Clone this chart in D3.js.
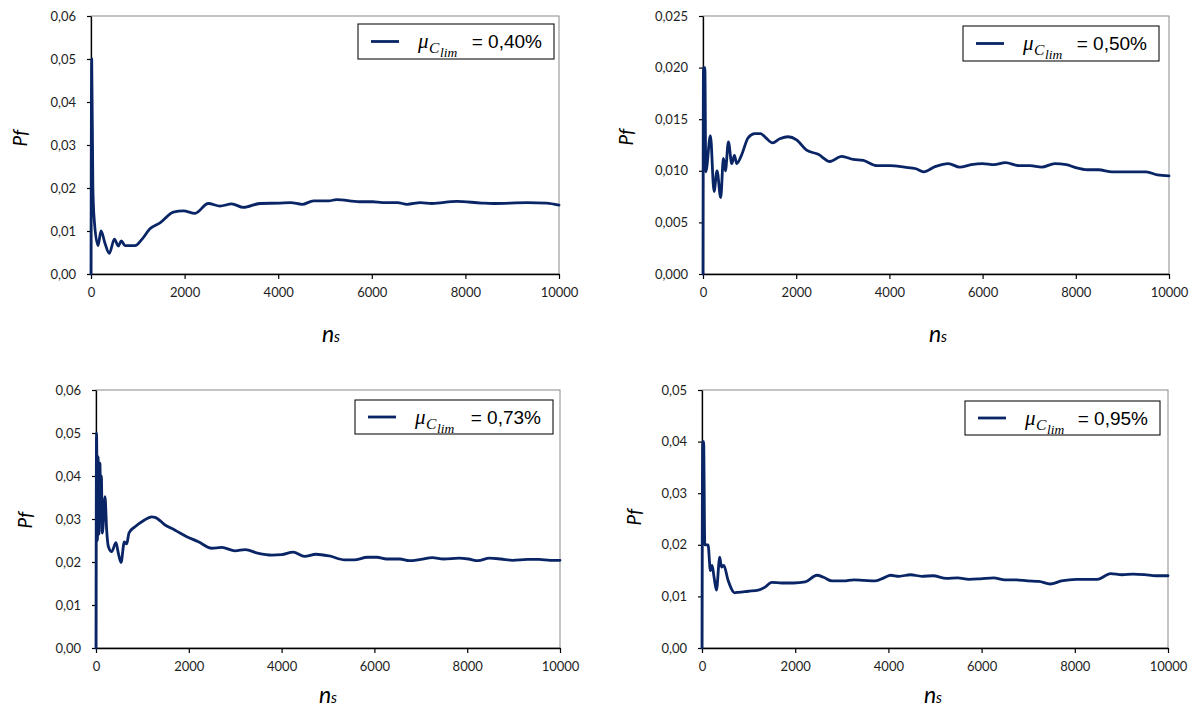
<!DOCTYPE html>
<html>
<head>
<meta charset="utf-8">
<script src="https://cdn.jsdelivr.net/npm/d3@7"></script>
<style>
  html, body { margin: 0; padding: 0; background: #fff; }
  svg { display: block; }
</style>
</head>
<body>
<svg id="chart" width="1195" height="711"></svg>
<script>
// Failure probability Pf against number of simulations n_s, one series per limit value

// μ_Clim = 0,40%
const ns040 = [0, 15, 40, 70, 150, 214, 300, 391, 500, 584, 648, 727, 940, 1083, 1260, 1474, 1760, 1972, 2222, 2507, 2756, 3006, 3255, 3611, 4038, 4266, 4511, 4755, 5082, 5245, 5734, 6020, 6224, 6550, 6754, 7039, 7284, 7814, 8344, 8589, 9323, 9731, 10000];
const pf040 = [0, 0.050, 0.020, 0.0125, 0.0066, 0.0100, 0.0071, 0.0048, 0.0081, 0.0065, 0.0077, 0.0066, 0.0066, 0.0080, 0.0105, 0.0119, 0.0144, 0.0147, 0.0141, 0.0164, 0.0158, 0.0163, 0.0155, 0.0164, 0.0165, 0.0166, 0.0162, 0.0170, 0.0170, 0.0173, 0.0168, 0.0168, 0.0166, 0.0166, 0.0162, 0.0166, 0.0164, 0.0169, 0.0165, 0.0164, 0.0166, 0.0165, 0.0160];

// μ_Clim = 0,50%
const ns050 = [0, 10, 40, 60, 159, 237, 301, 380, 438, 481, 545, 617, 674, 724, 825, 968, 1111, 1234, 1348, 1492, 1649, 1828, 2008, 2223, 2473, 2724, 2975, 3225, 3440, 3728, 4014, 4327, 4571, 4735, 4980, 5265, 5510, 5755, 6000, 6245, 6490, 6776, 7020, 7265, 7551, 7796, 8000, 8245, 8490, 8776, 9061, 9306, 9510, 9755, 10000];
const pf050 = [0, 0.0200, 0.0200, 0.0099, 0.0134, 0.0080, 0.0100, 0.0074, 0.0112, 0.0100, 0.0128, 0.0107, 0.0115, 0.0107, 0.0115, 0.0132, 0.0136, 0.0136, 0.0132, 0.0127, 0.0131, 0.0133, 0.0130, 0.0120, 0.0116, 0.0109, 0.0114, 0.0111, 0.0110, 0.0105, 0.0105, 0.01035, 0.0102, 0.0099, 0.0104, 0.0107, 0.01035, 0.0106, 0.0107, 0.0106, 0.0108, 0.0105, 0.0105, 0.01035, 0.0107, 0.0106, 0.0103, 0.0101, 0.0101, 0.0099, 0.0099, 0.0099, 0.0099, 0.0096, 0.0095];

// μ_Clim = 0,73%
const ns073 = [0, 12, 30, 45, 65, 85, 100, 115, 137, 194, 230, 266, 338, 431, 482, 539, 611, 661, 712, 841, 1021, 1201, 1273, 1488, 1704, 1956, 2207, 2495, 2711, 2998, 3214, 3502, 3789, 4002, 4248, 4495, 4741, 5029, 5357, 5563, 5850, 6056, 6261, 6549, 6754, 7001, 7247, 7494, 7822, 8028, 8233, 8480, 8726, 8973, 9302, 9548, 9794, 10000];
const pf073 = [0, 0.050, 0.025, 0.0445, 0.0265, 0.043, 0.030, 0.040, 0.0267, 0.0352, 0.0274, 0.0236, 0.0224, 0.0245, 0.0220, 0.0199, 0.0247, 0.0242, 0.0268, 0.0282, 0.0296, 0.0305, 0.0304, 0.0286, 0.0274, 0.0259, 0.0247, 0.0232, 0.0234, 0.0226, 0.0229, 0.0220, 0.0216, 0.0217, 0.0223, 0.0213, 0.0218, 0.0214, 0.0205, 0.0205, 0.0211, 0.0211, 0.0207, 0.0207, 0.0203, 0.0206, 0.0210, 0.0207, 0.0209, 0.0207, 0.0203, 0.0209, 0.0207, 0.0204, 0.0206, 0.0206, 0.0204, 0.0204];

// μ_Clim = 0,95%
const ns095 = [0, 15, 35, 60, 130, 180, 216, 259, 309, 381, 417, 467, 561, 705, 776, 992, 1208, 1352, 1496, 1711, 1963, 2215, 2466, 2610, 2790, 3041, 3257, 3473, 3724, 3904, 4048, 4230, 4473, 4716, 4959, 5243, 5486, 5729, 5972, 6256, 6499, 6742, 6985, 7229, 7472, 7715, 8039, 8282, 8485, 8768, 9011, 9254, 9497, 9741, 10000];
const pf095 = [0, 0.040, 0.040, 0.020, 0.020, 0.0150, 0.0160, 0.0137, 0.0112, 0.0176, 0.0157, 0.0160, 0.0131, 0.0107, 0.0108, 0.0110, 0.0112, 0.0118, 0.0127, 0.0126, 0.0126, 0.0128, 0.0141, 0.0137, 0.0130, 0.0130, 0.0132, 0.0131, 0.0130, 0.0136, 0.0141, 0.0139, 0.0142, 0.0139, 0.0140, 0.0135, 0.0136, 0.0133, 0.0134, 0.0136, 0.0132, 0.0132, 0.0130, 0.0129, 0.0124, 0.0130, 0.0133, 0.0133, 0.0133, 0.0144, 0.0142, 0.0143, 0.0142, 0.0140, 0.0140];

// Axis ticks
const xTicks = [0, 2000, 4000, 6000, 8000, 10000];
const yTicks040 = [0, 0.01, 0.02, 0.03, 0.04, 0.05, 0.06];
const yTicks050 = [0, 0.005, 0.010, 0.015, 0.020, 0.025];
const yTicks073 = [0, 0.01, 0.02, 0.03, 0.04, 0.05, 0.06];
const yTicks095 = [0, 0.01, 0.02, 0.03, 0.04, 0.05];

// Legend values
const limitLabels = ["0,40%", "0,50%", "0,73%", "0,95%"];

const lineColor = "#0a2566";
const commaLocale = d3.formatLocale({ decimal: ",", thousands: "", grouping: [3], currency: ["", ""] });

const panels = [
  { ns: ns040, pf: pf040, yTicks: yTicks040, digits: 2, label: limitLabels[0],
    plot: { l: 91, r: 559, t: 16, b: 274 }, legend: { x: 358, y: 24, w: 196, h: 35 },
    yTitle: { x: 20, y: 138 }, xTitle: { x: 331, y: 342 } },
  { ns: ns050, pf: pf050, yTicks: yTicks050, digits: 3, label: limitLabels[1],
    plot: { l: 703, r: 1169, t: 16, b: 274 }, legend: { x: 963, y: 26, w: 196, h: 35 },
    yTitle: { x: 626, y: 137 }, xTitle: { x: 938, y: 342 } },
  { ns: ns073, pf: pf073, yTicks: yTicks073, digits: 2, label: limitLabels[2],
    plot: { l: 96, r: 560, t: 390, b: 648 }, legend: { x: 355, y: 400, w: 198, h: 34 },
    yTitle: { x: 25, y: 520 }, xTitle: { x: 328, y: 703 } },
  { ns: ns095, pf: pf095, yTicks: yTicks095, digits: 2, label: limitLabels[3],
    plot: { l: 702, r: 1168, t: 390, b: 648 }, legend: { x: 965, y: 401, w: 195, h: 34 },
    yTitle: { x: 634, y: 517 }, xTitle: { x: 933, y: 703 } }
];

const svg = d3.select("#chart");

panels.forEach(p => {
  const g = svg.append("g");
  const x = d3.scaleLinear().domain([0, 10000]).range([p.plot.l, p.plot.r]);
  const yMax = p.yTicks[p.yTicks.length - 1];
  const y = d3.scaleLinear().domain([0, yMax]).range([p.plot.b, p.plot.t]);

  // plot frame (top/right in grey)
  g.append("rect")
    .attr("x", p.plot.l).attr("y", p.plot.t)
    .attr("width", p.plot.r - p.plot.l).attr("height", p.plot.b - p.plot.t)
    .attr("fill", "none").attr("stroke", "#8a8a8a").attr("stroke-width", 1);

  const fmtY = commaLocale.format("." + p.digits + "f");

  const yAxis = g.append("g")
    .attr("transform", `translate(${p.plot.l},0)`)
    .call(d3.axisLeft(y).tickValues(p.yTicks).tickFormat(fmtY).tickSizeInner(4).tickSizeOuter(0).tickPadding(11));
  const xAxis = g.append("g")
    .attr("transform", `translate(0,${p.plot.b})`)
    .call(d3.axisBottom(x).tickValues(xTicks).tickFormat(d3.format("d")).tickSizeInner(5).tickSizeOuter(0).tickPadding(9));

  [yAxis, xAxis].forEach(a => {
    a.select(".domain").attr("stroke", "#000").attr("stroke-width", 1.3);
    a.selectAll(".tick line").attr("stroke", "#000").attr("stroke-width", 1.2);
    a.selectAll(".tick text")
      .attr("fill", "#1e1e1e")
      .style("font-family", "Lato, 'Open Sans', sans-serif")
      .style("font-size", "13px");
  });

  // series line
  const line = d3.line()
    .x((d, i) => x(p.ns[i]))
    .y(d => y(d))
    .curve(d3.curveMonotoneX);
  g.append("path")
    .datum(p.pf)
    .attr("d", line)
    .attr("fill", "none")
    .attr("stroke", lineColor)
    .attr("stroke-width", 2.8)
    .attr("stroke-linejoin", "round")
    .attr("stroke-linecap", "round");

  // legend
  const L = p.legend;
  const lg = g.append("g").attr("transform", `translate(${L.x},${L.y})`);
  lg.append("rect").attr("width", L.w).attr("height", L.h)
    .attr("fill", "#fff").attr("stroke", "#111").attr("stroke-width", 1.1);
  lg.append("line").attr("x1", 13).attr("x2", 41).attr("y1", L.h / 2).attr("y2", L.h / 2)
    .attr("stroke", lineColor).attr("stroke-width", 2.8);
  const serif = "'Liberation Serif', 'DejaVu Serif', serif";
  lg.append("text").attr("x", 60).attr("y", 23.5)
    .style("font-family", serif).style("font-style", "italic").style("font-size", "21px")
    .attr("fill", "#000").text("μ");
  lg.append("text").attr("x", 71).attr("y", 28.5)
    .style("font-family", serif).style("font-style", "italic").style("font-size", "15.5px")
    .attr("fill", "#000").text("C");
  lg.append("text").attr("x", 82).attr("y", 32.5)
    .style("font-family", serif).style("font-style", "italic").style("font-size", "13.5px")
    .attr("fill", "#000").text("lim");
  lg.append("text").attr("x", L.w - 12).attr("y", 24)
    .attr("text-anchor", "end")
    .style("font-family", "'Liberation Sans', Arial, sans-serif").style("font-size", "19px")
    .attr("fill", "#000").text("= " + p.label);

  // axis titles
  g.append("text")
    .attr("transform", `translate(${p.yTitle.x},${p.yTitle.y}) rotate(-90)`)
    .attr("text-anchor", "middle").attr("dy", "0.35em")
    .style("font-family", "Lato, 'Open Sans', sans-serif").style("font-style", "italic").style("font-size", "19px")
    .attr("fill", "#000").text("Pf");

  const xt = g.append("text")
    .attr("x", p.xTitle.x).attr("y", p.xTitle.y)
    .attr("text-anchor", "middle")
    .style("font-family", "Lato, 'Open Sans', sans-serif").style("font-style", "italic")
    .attr("fill", "#000");
  xt.append("tspan").style("font-size", "23px").text("n");
  xt.append("tspan").style("font-size", "15px").text("s");
});
</script>
</body>
</html>
